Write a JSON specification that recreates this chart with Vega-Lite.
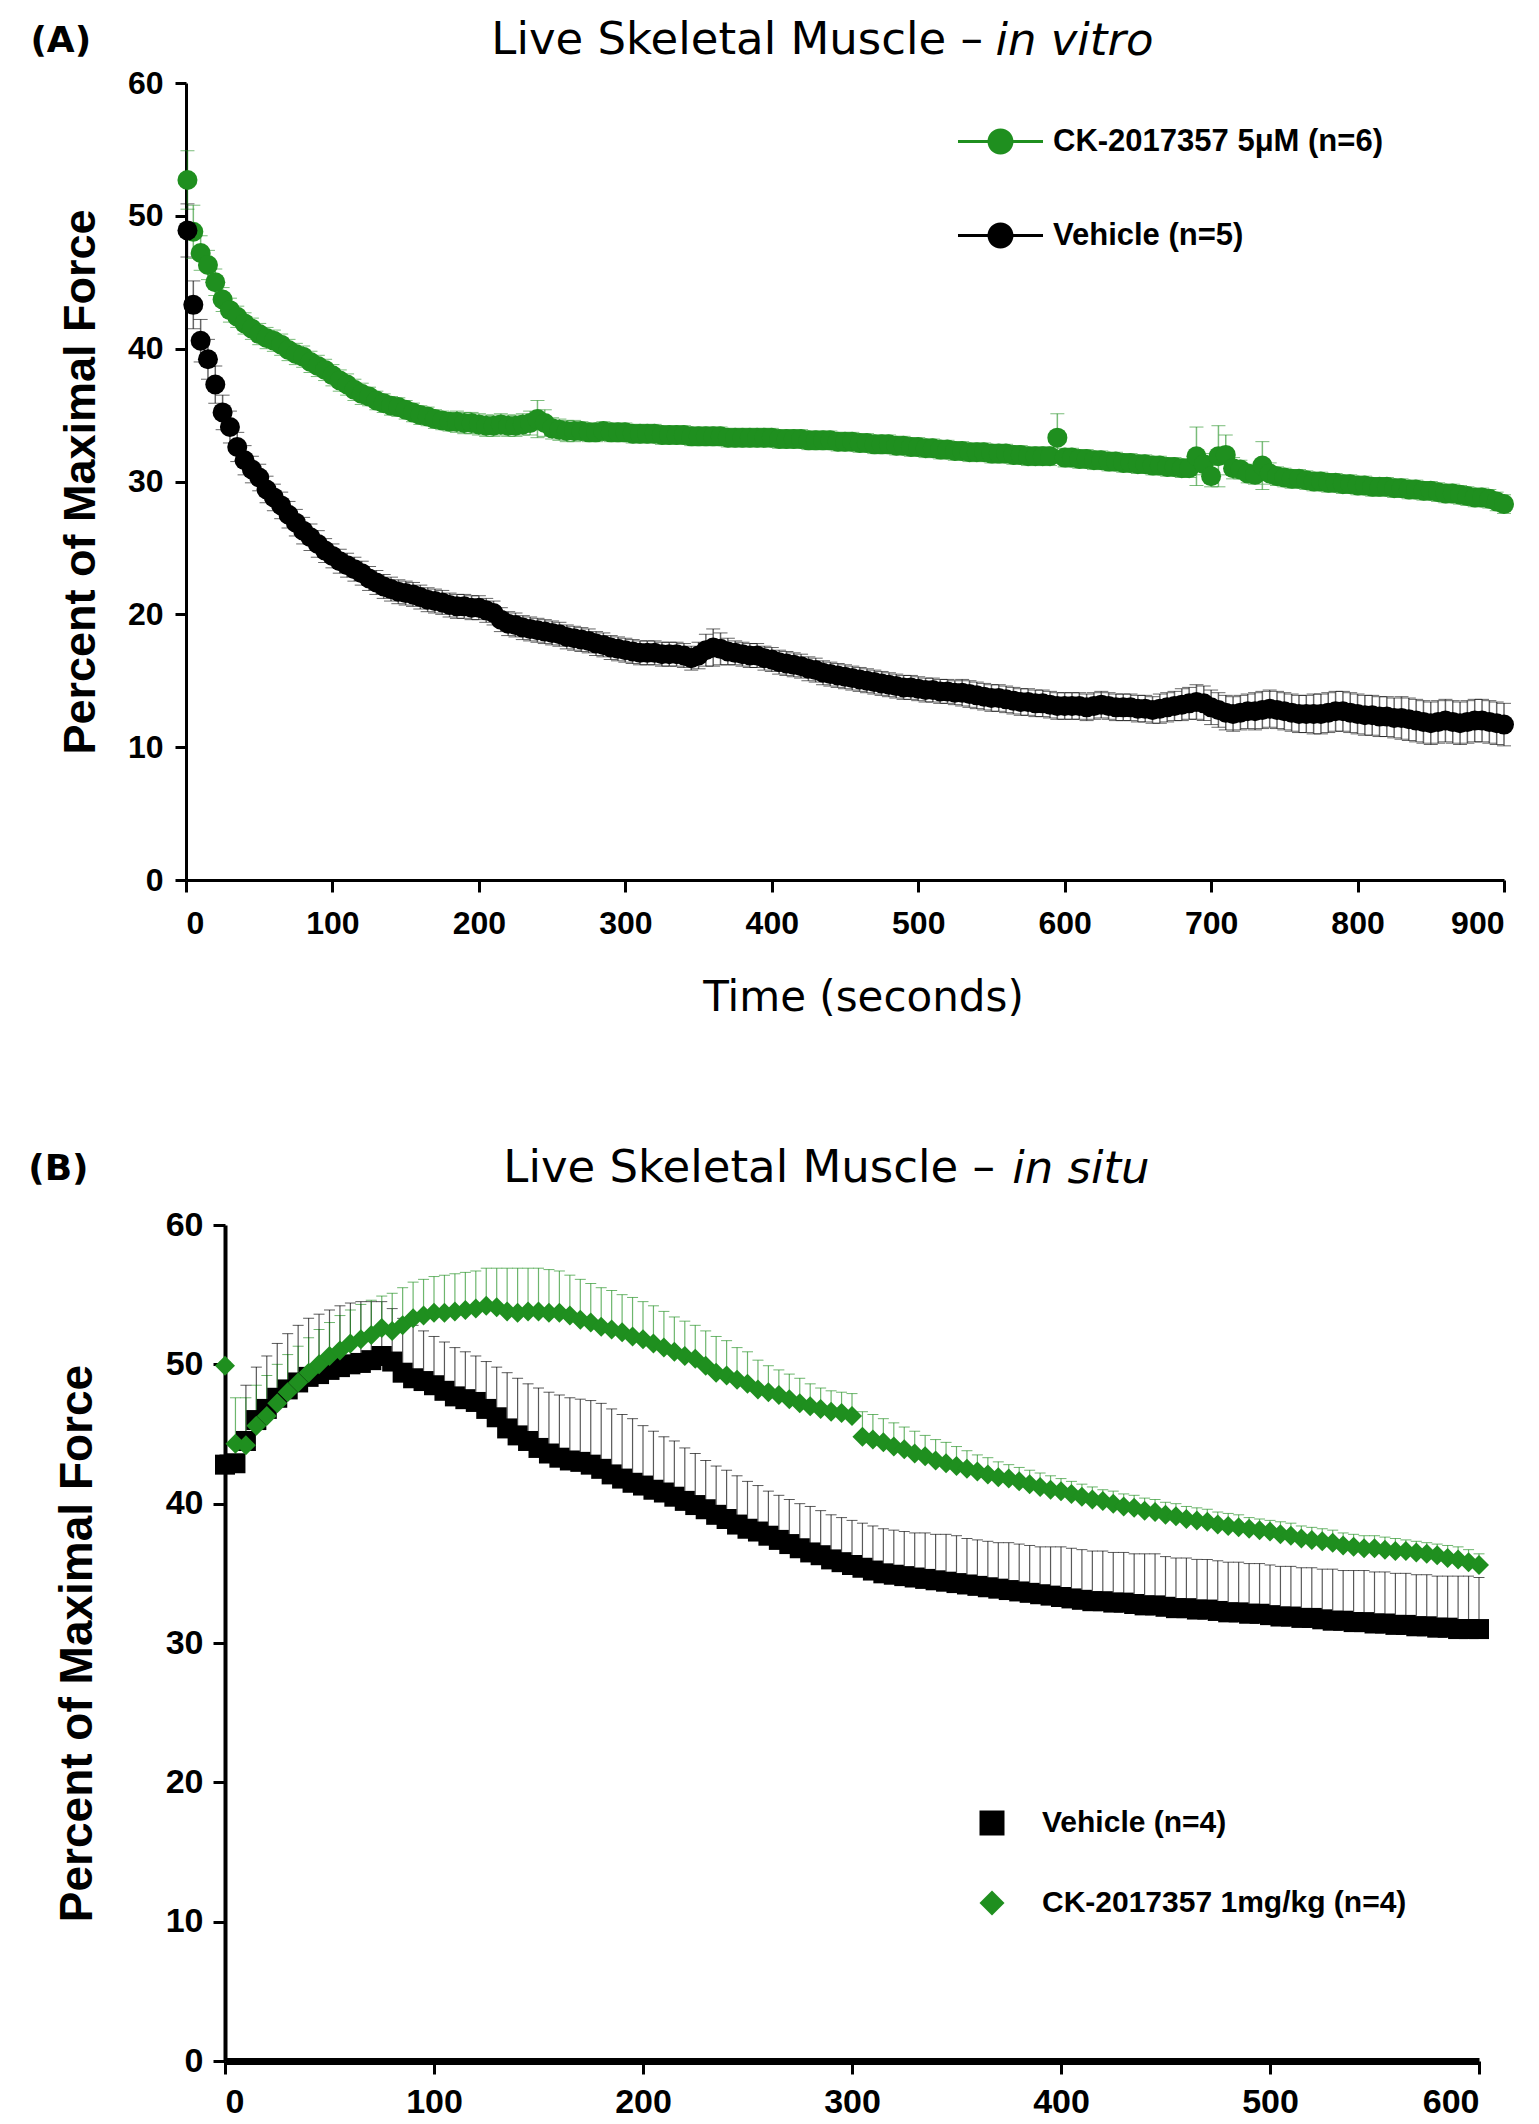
{
  "$schema": "https://vega.github.io/schema/vega-lite/v6.json",
  "background": "white",
  "padding": {"left": 28, "top": 18, "right": 10, "bottom": 0},
  "columns": 1,
  "align": "none",
  "spacing": 128,
  "resolve": {"scale": {"color": "independent", "shape": "independent"}},
  "config": {
    "view": {"stroke": null},
    "axis": {"grid": false, "domainColor": "black", "tickColor": "black", "labelColor": "black", "titleColor": "black", "labelFont": "Liberation Sans", "labelFontWeight": "bold", "titleFont": "Liberation Sans", "titleFontWeight": "bold"},
    "title": {"font": "DejaVu Sans", "fontWeight": "normal", "color": "black"}
  },
  "datasets": {
    "A": [
      {"s":"C","t":1,"y":52.7,"e":2.2},{"s":"C","t":5,"y":48.8,"e":2.0},{"s":"C","t":10,"y":47.2,"e":1.3},{"s":"C","t":15,"y":46.3,"e":1.1},{"s":"C","t":20,"y":45.0,"e":1.0},{"s":"C","t":25,"y":43.7,"e":0.9},{"s":"C","t":30,"y":42.9,"e":0.9},{"s":"C","t":35,"y":42.4,"e":0.8},{"s":"C","t":40,"y":41.9,"e":0.8},{"s":"C","t":45,"y":41.5,"e":0.8},
      {"s":"C","t":50,"y":41.1,"e":0.8},{"s":"C","t":55,"y":40.8,"e":0.8},{"s":"C","t":60,"y":40.6,"e":0.8},{"s":"C","t":65,"y":40.3,"e":0.8},{"s":"C","t":70,"y":39.9,"e":0.8},{"s":"C","t":75,"y":39.6,"e":0.8},{"s":"C","t":80,"y":39.4,"e":0.8},{"s":"C","t":85,"y":39.0,"e":0.8},{"s":"C","t":90,"y":38.7,"e":0.8},{"s":"C","t":95,"y":38.4,"e":0.8},
      {"s":"C","t":100,"y":38.0,"e":0.8},{"s":"C","t":105,"y":37.6,"e":0.8},{"s":"C","t":110,"y":37.3,"e":0.8},{"s":"C","t":115,"y":36.9,"e":0.8},{"s":"C","t":120,"y":36.6,"e":0.8},{"s":"C","t":125,"y":36.4,"e":0.7},{"s":"C","t":130,"y":36.1,"e":0.7},{"s":"C","t":135,"y":35.9,"e":0.7},{"s":"C","t":140,"y":35.7,"e":0.7},{"s":"C","t":145,"y":35.6,"e":0.7},
      {"s":"C","t":150,"y":35.4,"e":0.7},{"s":"C","t":155,"y":35.2,"e":0.7},{"s":"C","t":160,"y":35.0,"e":0.7},{"s":"C","t":165,"y":34.9,"e":0.7},{"s":"C","t":170,"y":34.7,"e":0.7},{"s":"C","t":175,"y":34.6,"e":0.7},{"s":"C","t":180,"y":34.5,"e":0.7},{"s":"C","t":185,"y":34.5,"e":0.8},{"s":"C","t":190,"y":34.4,"e":0.8},{"s":"C","t":195,"y":34.4,"e":0.8},
      {"s":"C","t":200,"y":34.3,"e":0.8},{"s":"C","t":205,"y":34.2,"e":0.8},{"s":"C","t":210,"y":34.2,"e":0.8},{"s":"C","t":215,"y":34.3,"e":0.8},{"s":"C","t":220,"y":34.2,"e":0.8},{"s":"C","t":225,"y":34.2,"e":0.8},{"s":"C","t":230,"y":34.3,"e":0.8},{"s":"C","t":235,"y":34.4,"e":0.9},{"s":"C","t":240,"y":34.7,"e":1.4},{"s":"C","t":245,"y":34.4,"e":1.0},
      {"s":"C","t":250,"y":34.0,"e":0.8},{"s":"C","t":255,"y":33.9,"e":0.8},{"s":"C","t":260,"y":33.8,"e":0.8},{"s":"C","t":265,"y":33.8,"e":0.8},{"s":"C","t":270,"y":33.8,"e":0.7},{"s":"C","t":275,"y":33.7,"e":0.7},{"s":"C","t":280,"y":33.7,"e":0.7},{"s":"C","t":285,"y":33.8,"e":0.7},{"s":"C","t":290,"y":33.7,"e":0.7},{"s":"C","t":295,"y":33.7,"e":0.7},
      {"s":"C","t":300,"y":33.7,"e":0.7},{"s":"C","t":305,"y":33.6,"e":0.7},{"s":"C","t":310,"y":33.6,"e":0.7},{"s":"C","t":315,"y":33.6,"e":0.7},{"s":"C","t":320,"y":33.6,"e":0.7},{"s":"C","t":325,"y":33.5,"e":0.7},{"s":"C","t":330,"y":33.5,"e":0.7},{"s":"C","t":335,"y":33.5,"e":0.7},{"s":"C","t":340,"y":33.5,"e":0.7},{"s":"C","t":345,"y":33.4,"e":0.7},
      {"s":"C","t":350,"y":33.4,"e":0.7},{"s":"C","t":355,"y":33.4,"e":0.7},{"s":"C","t":360,"y":33.4,"e":0.7},{"s":"C","t":365,"y":33.4,"e":0.7},{"s":"C","t":370,"y":33.3,"e":0.7},{"s":"C","t":375,"y":33.3,"e":0.7},{"s":"C","t":380,"y":33.3,"e":0.7},{"s":"C","t":385,"y":33.3,"e":0.7},{"s":"C","t":390,"y":33.3,"e":0.7},{"s":"C","t":395,"y":33.3,"e":0.7},
      {"s":"C","t":400,"y":33.3,"e":0.7},{"s":"C","t":405,"y":33.2,"e":0.7},{"s":"C","t":410,"y":33.2,"e":0.7},{"s":"C","t":415,"y":33.2,"e":0.7},{"s":"C","t":420,"y":33.2,"e":0.7},{"s":"C","t":425,"y":33.1,"e":0.7},{"s":"C","t":430,"y":33.1,"e":0.7},{"s":"C","t":435,"y":33.1,"e":0.7},{"s":"C","t":440,"y":33.1,"e":0.7},{"s":"C","t":445,"y":33.0,"e":0.7},
      {"s":"C","t":450,"y":33.0,"e":0.7},{"s":"C","t":455,"y":33.0,"e":0.7},{"s":"C","t":460,"y":32.9,"e":0.7},{"s":"C","t":465,"y":32.9,"e":0.7},{"s":"C","t":470,"y":32.8,"e":0.7},{"s":"C","t":475,"y":32.8,"e":0.7},{"s":"C","t":480,"y":32.8,"e":0.7},{"s":"C","t":485,"y":32.7,"e":0.7},{"s":"C","t":490,"y":32.7,"e":0.7},{"s":"C","t":495,"y":32.6,"e":0.7},
      {"s":"C","t":500,"y":32.6,"e":0.7},{"s":"C","t":505,"y":32.5,"e":0.7},{"s":"C","t":510,"y":32.5,"e":0.7},{"s":"C","t":515,"y":32.4,"e":0.7},{"s":"C","t":520,"y":32.4,"e":0.7},{"s":"C","t":525,"y":32.3,"e":0.7},{"s":"C","t":530,"y":32.3,"e":0.7},{"s":"C","t":535,"y":32.2,"e":0.7},{"s":"C","t":540,"y":32.2,"e":0.7},{"s":"C","t":545,"y":32.2,"e":0.7},
      {"s":"C","t":550,"y":32.1,"e":0.7},{"s":"C","t":555,"y":32.1,"e":0.7},{"s":"C","t":560,"y":32.1,"e":0.7},{"s":"C","t":565,"y":32.0,"e":0.7},{"s":"C","t":570,"y":32.0,"e":0.7},{"s":"C","t":575,"y":31.9,"e":0.7},{"s":"C","t":580,"y":31.9,"e":0.7},{"s":"C","t":585,"y":31.9,"e":0.7},{"s":"C","t":590,"y":31.9,"e":0.7},{"s":"C","t":595,"y":33.3,"e":1.8},
      {"s":"C","t":600,"y":31.8,"e":0.7},{"s":"C","t":605,"y":31.8,"e":0.7},{"s":"C","t":610,"y":31.7,"e":0.7},{"s":"C","t":615,"y":31.7,"e":0.7},{"s":"C","t":620,"y":31.6,"e":0.7},{"s":"C","t":625,"y":31.6,"e":0.7},{"s":"C","t":630,"y":31.5,"e":0.7},{"s":"C","t":635,"y":31.5,"e":0.7},{"s":"C","t":640,"y":31.4,"e":0.7},{"s":"C","t":645,"y":31.4,"e":0.7},
      {"s":"C","t":650,"y":31.3,"e":0.7},{"s":"C","t":655,"y":31.3,"e":0.7},{"s":"C","t":660,"y":31.2,"e":0.7},{"s":"C","t":665,"y":31.2,"e":0.7},{"s":"C","t":670,"y":31.1,"e":0.7},{"s":"C","t":675,"y":31.1,"e":0.7},{"s":"C","t":680,"y":31.0,"e":0.7},{"s":"C","t":685,"y":31.0,"e":0.7},{"s":"C","t":690,"y":31.9,"e":2.2},{"s":"C","t":695,"y":31.3,"e":0.8},
      {"s":"C","t":700,"y":30.4,"e":0.8},{"s":"C","t":705,"y":31.9,"e":2.3},{"s":"C","t":710,"y":32.0,"e":1.5},{"s":"C","t":715,"y":31.0,"e":0.8},{"s":"C","t":720,"y":30.9,"e":0.7},{"s":"C","t":725,"y":30.6,"e":0.7},{"s":"C","t":730,"y":30.5,"e":0.7},{"s":"C","t":735,"y":31.2,"e":1.8},{"s":"C","t":740,"y":30.6,"e":0.8},{"s":"C","t":745,"y":30.4,"e":0.7},
      {"s":"C","t":750,"y":30.3,"e":0.7},{"s":"C","t":755,"y":30.2,"e":0.7},{"s":"C","t":760,"y":30.2,"e":0.7},{"s":"C","t":765,"y":30.1,"e":0.7},{"s":"C","t":770,"y":30.0,"e":0.7},{"s":"C","t":775,"y":30.0,"e":0.7},{"s":"C","t":780,"y":29.9,"e":0.7},{"s":"C","t":785,"y":29.9,"e":0.7},{"s":"C","t":790,"y":29.8,"e":0.7},{"s":"C","t":795,"y":29.8,"e":0.7},
      {"s":"C","t":800,"y":29.7,"e":0.7},{"s":"C","t":805,"y":29.7,"e":0.7},{"s":"C","t":810,"y":29.6,"e":0.7},{"s":"C","t":815,"y":29.6,"e":0.7},{"s":"C","t":820,"y":29.6,"e":0.7},{"s":"C","t":825,"y":29.5,"e":0.7},{"s":"C","t":830,"y":29.5,"e":0.7},{"s":"C","t":835,"y":29.4,"e":0.7},{"s":"C","t":840,"y":29.4,"e":0.7},{"s":"C","t":845,"y":29.3,"e":0.7},
      {"s":"C","t":850,"y":29.3,"e":0.7},{"s":"C","t":855,"y":29.2,"e":0.7},{"s":"C","t":860,"y":29.1,"e":0.7},{"s":"C","t":865,"y":29.1,"e":0.7},{"s":"C","t":870,"y":29.0,"e":0.7},{"s":"C","t":875,"y":28.9,"e":0.7},{"s":"C","t":880,"y":28.8,"e":0.7},{"s":"C","t":885,"y":28.8,"e":0.7},{"s":"C","t":890,"y":28.7,"e":0.7},{"s":"C","t":895,"y":28.5,"e":0.7},
      {"s":"C","t":900,"y":28.3,"e":0.7},
      {"s":"V","t":1,"y":48.9,"e":2.0},{"s":"V","t":5,"y":43.3,"e":1.8},{"s":"V","t":10,"y":40.6,"e":1.6},{"s":"V","t":15,"y":39.2,"e":1.5},{"s":"V","t":20,"y":37.3,"e":1.4},{"s":"V","t":25,"y":35.2,"e":1.3},{"s":"V","t":30,"y":34.1,"e":1.2},{"s":"V","t":35,"y":32.6,"e":1.1},{"s":"V","t":40,"y":31.6,"e":1.1},{"s":"V","t":45,"y":30.9,"e":1.0},
      {"s":"V","t":50,"y":30.3,"e":1.0},{"s":"V","t":55,"y":29.4,"e":1.0},{"s":"V","t":60,"y":28.8,"e":1.0},{"s":"V","t":65,"y":28.2,"e":1.0},{"s":"V","t":70,"y":27.5,"e":1.0},{"s":"V","t":75,"y":26.9,"e":1.0},{"s":"V","t":80,"y":26.3,"e":1.0},{"s":"V","t":85,"y":25.8,"e":1.0},{"s":"V","t":90,"y":25.3,"e":1.0},{"s":"V","t":95,"y":24.8,"e":0.9},
      {"s":"V","t":100,"y":24.4,"e":0.9},{"s":"V","t":105,"y":24.0,"e":0.9},{"s":"V","t":110,"y":23.7,"e":0.9},{"s":"V","t":115,"y":23.4,"e":0.9},{"s":"V","t":120,"y":23.1,"e":0.9},{"s":"V","t":125,"y":22.7,"e":0.9},{"s":"V","t":130,"y":22.4,"e":0.9},{"s":"V","t":135,"y":22.1,"e":0.9},{"s":"V","t":140,"y":21.9,"e":0.9},{"s":"V","t":145,"y":21.7,"e":0.9},
      {"s":"V","t":150,"y":21.6,"e":0.9},{"s":"V","t":155,"y":21.5,"e":0.9},{"s":"V","t":160,"y":21.3,"e":0.9},{"s":"V","t":165,"y":21.1,"e":0.9},{"s":"V","t":170,"y":21.0,"e":0.9},{"s":"V","t":175,"y":20.9,"e":0.9},{"s":"V","t":180,"y":20.7,"e":0.9},{"s":"V","t":185,"y":20.6,"e":0.9},{"s":"V","t":190,"y":20.6,"e":0.9},{"s":"V","t":195,"y":20.5,"e":0.9},
      {"s":"V","t":200,"y":20.5,"e":0.9},{"s":"V","t":205,"y":20.3,"e":0.9},{"s":"V","t":210,"y":20.1,"e":0.9},{"s":"V","t":215,"y":19.6,"e":0.9},{"s":"V","t":220,"y":19.3,"e":0.9},{"s":"V","t":225,"y":19.2,"e":0.9},{"s":"V","t":230,"y":19.0,"e":0.9},{"s":"V","t":235,"y":18.9,"e":0.9},{"s":"V","t":240,"y":18.8,"e":0.9},{"s":"V","t":245,"y":18.7,"e":0.9},
      {"s":"V","t":250,"y":18.6,"e":0.9},{"s":"V","t":255,"y":18.5,"e":0.9},{"s":"V","t":260,"y":18.3,"e":0.9},{"s":"V","t":265,"y":18.2,"e":0.9},{"s":"V","t":270,"y":18.1,"e":0.9},{"s":"V","t":275,"y":18.0,"e":0.9},{"s":"V","t":280,"y":17.8,"e":0.9},{"s":"V","t":285,"y":17.7,"e":0.9},{"s":"V","t":290,"y":17.5,"e":0.9},{"s":"V","t":295,"y":17.4,"e":0.9},
      {"s":"V","t":300,"y":17.3,"e":0.9},{"s":"V","t":305,"y":17.2,"e":0.9},{"s":"V","t":310,"y":17.1,"e":0.9},{"s":"V","t":315,"y":17.1,"e":0.9},{"s":"V","t":320,"y":17.1,"e":0.9},{"s":"V","t":325,"y":17.0,"e":0.9},{"s":"V","t":330,"y":17.0,"e":0.9},{"s":"V","t":335,"y":17.0,"e":0.9},{"s":"V","t":340,"y":16.9,"e":0.9},{"s":"V","t":345,"y":16.7,"e":0.9},
      {"s":"V","t":350,"y":16.9,"e":1.0},{"s":"V","t":355,"y":17.3,"e":1.2},{"s":"V","t":360,"y":17.5,"e":1.4},{"s":"V","t":365,"y":17.4,"e":1.2},{"s":"V","t":370,"y":17.2,"e":1.0},{"s":"V","t":375,"y":17.1,"e":0.9},{"s":"V","t":380,"y":17.0,"e":0.9},{"s":"V","t":385,"y":16.9,"e":0.9},{"s":"V","t":390,"y":16.9,"e":0.9},{"s":"V","t":395,"y":16.7,"e":0.9},
      {"s":"V","t":400,"y":16.6,"e":0.9},{"s":"V","t":405,"y":16.4,"e":0.9},{"s":"V","t":410,"y":16.3,"e":0.9},{"s":"V","t":415,"y":16.2,"e":0.9},{"s":"V","t":420,"y":16.1,"e":0.9},{"s":"V","t":425,"y":15.9,"e":0.9},{"s":"V","t":430,"y":15.8,"e":0.9},{"s":"V","t":435,"y":15.6,"e":0.9},{"s":"V","t":440,"y":15.5,"e":0.9},{"s":"V","t":445,"y":15.4,"e":0.9},
      {"s":"V","t":450,"y":15.3,"e":0.9},{"s":"V","t":455,"y":15.2,"e":0.9},{"s":"V","t":460,"y":15.1,"e":0.9},{"s":"V","t":465,"y":15.0,"e":0.9},{"s":"V","t":470,"y":14.9,"e":0.9},{"s":"V","t":475,"y":14.8,"e":0.9},{"s":"V","t":480,"y":14.7,"e":0.9},{"s":"V","t":485,"y":14.6,"e":0.9},{"s":"V","t":490,"y":14.5,"e":0.9},{"s":"V","t":495,"y":14.5,"e":0.9},
      {"s":"V","t":500,"y":14.4,"e":0.9},{"s":"V","t":505,"y":14.3,"e":0.9},{"s":"V","t":510,"y":14.3,"e":0.9},{"s":"V","t":515,"y":14.2,"e":0.9},{"s":"V","t":520,"y":14.2,"e":0.9},{"s":"V","t":525,"y":14.1,"e":0.9},{"s":"V","t":530,"y":14.1,"e":1.0},{"s":"V","t":535,"y":14.0,"e":1.0},{"s":"V","t":540,"y":13.9,"e":1.0},{"s":"V","t":545,"y":13.8,"e":1.0},
      {"s":"V","t":550,"y":13.7,"e":1.0},{"s":"V","t":555,"y":13.7,"e":1.0},{"s":"V","t":560,"y":13.6,"e":1.0},{"s":"V","t":565,"y":13.5,"e":1.0},{"s":"V","t":570,"y":13.4,"e":1.0},{"s":"V","t":575,"y":13.4,"e":1.0},{"s":"V","t":580,"y":13.3,"e":1.0},{"s":"V","t":585,"y":13.3,"e":1.0},{"s":"V","t":590,"y":13.2,"e":1.0},{"s":"V","t":595,"y":13.1,"e":1.0},
      {"s":"V","t":600,"y":13.1,"e":1.0},{"s":"V","t":605,"y":13.1,"e":1.0},{"s":"V","t":610,"y":13.1,"e":1.0},{"s":"V","t":615,"y":13.0,"e":1.0},{"s":"V","t":620,"y":13.1,"e":1.0},{"s":"V","t":625,"y":13.2,"e":1.0},{"s":"V","t":630,"y":13.1,"e":1.0},{"s":"V","t":635,"y":13.0,"e":1.0},{"s":"V","t":640,"y":13.0,"e":1.0},{"s":"V","t":645,"y":13.0,"e":1.0},
      {"s":"V","t":650,"y":12.9,"e":1.0},{"s":"V","t":655,"y":12.9,"e":1.0},{"s":"V","t":660,"y":12.8,"e":1.0},{"s":"V","t":665,"y":12.9,"e":1.1},{"s":"V","t":670,"y":13.0,"e":1.1},{"s":"V","t":675,"y":13.1,"e":1.1},{"s":"V","t":680,"y":13.2,"e":1.2},{"s":"V","t":685,"y":13.3,"e":1.2},{"s":"V","t":690,"y":13.4,"e":1.3},{"s":"V","t":695,"y":13.3,"e":1.3},
      {"s":"V","t":700,"y":13.0,"e":1.3},{"s":"V","t":705,"y":12.8,"e":1.3},{"s":"V","t":710,"y":12.6,"e":1.3},{"s":"V","t":715,"y":12.5,"e":1.3},{"s":"V","t":720,"y":12.6,"e":1.3},{"s":"V","t":725,"y":12.7,"e":1.3},{"s":"V","t":730,"y":12.7,"e":1.4},{"s":"V","t":735,"y":12.8,"e":1.4},{"s":"V","t":740,"y":12.9,"e":1.4},{"s":"V","t":745,"y":12.8,"e":1.4},
      {"s":"V","t":750,"y":12.7,"e":1.4},{"s":"V","t":755,"y":12.6,"e":1.4},{"s":"V","t":760,"y":12.5,"e":1.4},{"s":"V","t":765,"y":12.5,"e":1.4},{"s":"V","t":770,"y":12.5,"e":1.5},{"s":"V","t":775,"y":12.5,"e":1.5},{"s":"V","t":780,"y":12.6,"e":1.5},{"s":"V","t":785,"y":12.7,"e":1.5},{"s":"V","t":790,"y":12.7,"e":1.5},{"s":"V","t":795,"y":12.6,"e":1.5},
      {"s":"V","t":800,"y":12.5,"e":1.5},{"s":"V","t":805,"y":12.4,"e":1.5},{"s":"V","t":810,"y":12.4,"e":1.5},{"s":"V","t":815,"y":12.3,"e":1.5},{"s":"V","t":820,"y":12.3,"e":1.5},{"s":"V","t":825,"y":12.2,"e":1.5},{"s":"V","t":830,"y":12.2,"e":1.6},{"s":"V","t":835,"y":12.1,"e":1.6},{"s":"V","t":840,"y":12.0,"e":1.6},{"s":"V","t":845,"y":11.9,"e":1.6},
      {"s":"V","t":850,"y":11.8,"e":1.6},{"s":"V","t":855,"y":11.9,"e":1.6},{"s":"V","t":860,"y":12.0,"e":1.6},{"s":"V","t":865,"y":11.9,"e":1.6},{"s":"V","t":870,"y":11.8,"e":1.6},{"s":"V","t":875,"y":11.9,"e":1.6},{"s":"V","t":880,"y":12.0,"e":1.6},{"s":"V","t":885,"y":12.0,"e":1.6},{"s":"V","t":890,"y":11.9,"e":1.6},{"s":"V","t":895,"y":11.8,"e":1.6},
      {"s":"V","t":900,"y":11.7,"e":1.6}
    ],
    "B": [
      {"s":"V","t":0,"y":42.8,"u":43.5},{"s":"V","t":5,"y":42.9,"u":44.5},{"s":"V","t":10,"y":44.5,"u":48.5},{"s":"V","t":15,"y":46.0,"u":49.8},{"s":"V","t":20,"y":46.8,"u":50.6},{"s":"V","t":25,"y":47.6,"u":51.5},{"s":"V","t":30,"y":48.2,"u":52.2},{"s":"V","t":35,"y":48.7,"u":52.8},{"s":"V","t":40,"y":49.1,"u":53.3},{"s":"V","t":45,"y":49.3,"u":53.6},
      {"s":"V","t":50,"y":49.6,"u":53.9},{"s":"V","t":55,"y":49.8,"u":54.2},{"s":"V","t":60,"y":50.0,"u":54.4},{"s":"V","t":65,"y":50.1,"u":54.5},{"s":"V","t":70,"y":50.3,"u":54.5},{"s":"V","t":75,"y":50.6,"u":54.5},{"s":"V","t":80,"y":50.2,"u":54.0},{"s":"V","t":85,"y":49.4,"u":53.3},{"s":"V","t":90,"y":49.0,"u":52.8},{"s":"V","t":95,"y":48.8,"u":52.4},
      {"s":"V","t":100,"y":48.5,"u":52.0},{"s":"V","t":105,"y":48.1,"u":51.6},{"s":"V","t":110,"y":47.7,"u":51.2},{"s":"V","t":115,"y":47.5,"u":50.9},{"s":"V","t":120,"y":47.3,"u":50.6},{"s":"V","t":125,"y":46.8,"u":50.2},{"s":"V","t":130,"y":46.2,"u":49.8},{"s":"V","t":135,"y":45.4,"u":49.4},{"s":"V","t":140,"y":44.9,"u":49.0},{"s":"V","t":145,"y":44.5,"u":48.6},
      {"s":"V","t":150,"y":44.0,"u":48.3},{"s":"V","t":155,"y":43.6,"u":48.0},{"s":"V","t":160,"y":43.3,"u":47.8},{"s":"V","t":165,"y":43.1,"u":47.6},{"s":"V","t":170,"y":43.0,"u":47.5},{"s":"V","t":175,"y":42.8,"u":47.4},{"s":"V","t":180,"y":42.5,"u":47.2},{"s":"V","t":185,"y":42.1,"u":46.8},{"s":"V","t":190,"y":41.8,"u":46.4},{"s":"V","t":195,"y":41.5,"u":46.1},
      {"s":"V","t":200,"y":41.3,"u":45.6},{"s":"V","t":205,"y":41.0,"u":45.2},{"s":"V","t":210,"y":40.8,"u":44.8},{"s":"V","t":215,"y":40.5,"u":44.5},{"s":"V","t":220,"y":40.2,"u":44.0},{"s":"V","t":225,"y":39.9,"u":43.6},{"s":"V","t":230,"y":39.6,"u":43.1},{"s":"V","t":235,"y":39.2,"u":42.7},{"s":"V","t":240,"y":38.9,"u":42.4},{"s":"V","t":245,"y":38.5,"u":42.0},
      {"s":"V","t":250,"y":38.2,"u":41.6},{"s":"V","t":255,"y":38.0,"u":41.3},{"s":"V","t":260,"y":37.7,"u":40.9},{"s":"V","t":265,"y":37.4,"u":40.6},{"s":"V","t":270,"y":37.1,"u":40.3},{"s":"V","t":275,"y":36.8,"u":40.0},{"s":"V","t":280,"y":36.5,"u":39.8},{"s":"V","t":285,"y":36.3,"u":39.5},{"s":"V","t":290,"y":36.0,"u":39.2},{"s":"V","t":295,"y":35.8,"u":39.0},
      {"s":"V","t":300,"y":35.6,"u":38.8},{"s":"V","t":305,"y":35.4,"u":38.6},{"s":"V","t":310,"y":35.2,"u":38.4},{"s":"V","t":315,"y":35.0,"u":38.2},{"s":"V","t":320,"y":34.9,"u":38.1},{"s":"V","t":325,"y":34.8,"u":38.0},{"s":"V","t":330,"y":34.7,"u":37.9},{"s":"V","t":335,"y":34.6,"u":37.9},{"s":"V","t":340,"y":34.5,"u":37.8},{"s":"V","t":345,"y":34.4,"u":37.8},
      {"s":"V","t":350,"y":34.3,"u":37.7},{"s":"V","t":355,"y":34.2,"u":37.5},{"s":"V","t":360,"y":34.1,"u":37.4},{"s":"V","t":365,"y":34.0,"u":37.3},{"s":"V","t":370,"y":33.9,"u":37.2},{"s":"V","t":375,"y":33.8,"u":37.2},{"s":"V","t":380,"y":33.7,"u":37.1},{"s":"V","t":385,"y":33.6,"u":37.0},{"s":"V","t":390,"y":33.5,"u":36.9},{"s":"V","t":395,"y":33.4,"u":36.9},
      {"s":"V","t":400,"y":33.3,"u":36.9},{"s":"V","t":405,"y":33.2,"u":36.8},{"s":"V","t":410,"y":33.1,"u":36.7},{"s":"V","t":415,"y":33.0,"u":36.6},{"s":"V","t":420,"y":33.0,"u":36.6},{"s":"V","t":425,"y":32.9,"u":36.5},{"s":"V","t":430,"y":32.9,"u":36.5},{"s":"V","t":435,"y":32.8,"u":36.4},{"s":"V","t":440,"y":32.7,"u":36.4},{"s":"V","t":445,"y":32.7,"u":36.4},
      {"s":"V","t":450,"y":32.6,"u":36.2},{"s":"V","t":455,"y":32.5,"u":36.1},{"s":"V","t":460,"y":32.5,"u":36.1},{"s":"V","t":465,"y":32.4,"u":36.0},{"s":"V","t":470,"y":32.4,"u":36.0},{"s":"V","t":475,"y":32.3,"u":35.9},{"s":"V","t":480,"y":32.2,"u":35.8},{"s":"V","t":485,"y":32.2,"u":35.8},{"s":"V","t":490,"y":32.1,"u":35.7},{"s":"V","t":495,"y":32.1,"u":35.7},
      {"s":"V","t":500,"y":32.0,"u":35.6},{"s":"V","t":505,"y":31.9,"u":35.5},{"s":"V","t":510,"y":31.9,"u":35.5},{"s":"V","t":515,"y":31.8,"u":35.4},{"s":"V","t":520,"y":31.8,"u":35.4},{"s":"V","t":525,"y":31.7,"u":35.3},{"s":"V","t":530,"y":31.6,"u":35.3},{"s":"V","t":535,"y":31.6,"u":35.2},{"s":"V","t":540,"y":31.5,"u":35.2},{"s":"V","t":545,"y":31.5,"u":35.2},
      {"s":"V","t":550,"y":31.4,"u":35.1},{"s":"V","t":555,"y":31.4,"u":35.1},{"s":"V","t":560,"y":31.3,"u":35.0},{"s":"V","t":565,"y":31.3,"u":35.0},{"s":"V","t":570,"y":31.2,"u":34.9},{"s":"V","t":575,"y":31.2,"u":34.9},{"s":"V","t":580,"y":31.1,"u":34.8},{"s":"V","t":585,"y":31.1,"u":34.8},{"s":"V","t":590,"y":31.0,"u":34.8},{"s":"V","t":595,"y":31.0,"u":34.8},
      {"s":"V","t":600,"y":31.0,"u":34.7},
      {"s":"C","t":0,"y":49.9,"u":50.2},{"s":"C","t":5,"y":44.3,"u":47.6},{"s":"C","t":10,"y":44.2,"u":47.6},{"s":"C","t":15,"y":45.6,"u":48.5},{"s":"C","t":20,"y":46.3,"u":49.2},{"s":"C","t":25,"y":47.2,"u":50.0},{"s":"C","t":30,"y":48.0,"u":50.7},{"s":"C","t":35,"y":48.7,"u":51.3},{"s":"C","t":40,"y":49.4,"u":51.9},{"s":"C","t":45,"y":50.0,"u":52.5},
      {"s":"C","t":50,"y":50.6,"u":53.0},{"s":"C","t":55,"y":51.0,"u":53.5},{"s":"C","t":60,"y":51.5,"u":53.9},{"s":"C","t":65,"y":51.8,"u":54.3},{"s":"C","t":70,"y":52.1,"u":54.6},{"s":"C","t":75,"y":52.6,"u":54.9},{"s":"C","t":80,"y":52.4,"u":55.1},{"s":"C","t":85,"y":52.8,"u":55.5},{"s":"C","t":90,"y":53.3,"u":55.9},{"s":"C","t":95,"y":53.5,"u":56.1},
      {"s":"C","t":100,"y":53.7,"u":56.3},{"s":"C","t":105,"y":53.7,"u":56.4},{"s":"C","t":110,"y":53.8,"u":56.5},{"s":"C","t":115,"y":53.9,"u":56.6},{"s":"C","t":120,"y":54.0,"u":56.7},{"s":"C","t":125,"y":54.2,"u":56.9},{"s":"C","t":130,"y":54.1,"u":56.9},{"s":"C","t":135,"y":53.8,"u":56.9},{"s":"C","t":140,"y":53.7,"u":56.9},{"s":"C","t":145,"y":53.8,"u":56.9},
      {"s":"C","t":150,"y":53.8,"u":56.9},{"s":"C","t":155,"y":53.7,"u":56.8},{"s":"C","t":160,"y":53.7,"u":56.7},{"s":"C","t":165,"y":53.5,"u":56.4},{"s":"C","t":170,"y":53.2,"u":56.1},{"s":"C","t":175,"y":53.0,"u":55.8},{"s":"C","t":180,"y":52.7,"u":55.5},{"s":"C","t":185,"y":52.5,"u":55.3},{"s":"C","t":190,"y":52.3,"u":55.0},{"s":"C","t":195,"y":52.0,"u":54.8},
      {"s":"C","t":200,"y":51.8,"u":54.5},{"s":"C","t":205,"y":51.5,"u":54.2},{"s":"C","t":210,"y":51.2,"u":53.8},{"s":"C","t":215,"y":50.9,"u":53.4},{"s":"C","t":220,"y":50.6,"u":53.1},{"s":"C","t":225,"y":50.4,"u":52.8},{"s":"C","t":230,"y":49.9,"u":52.4},{"s":"C","t":235,"y":49.4,"u":52.0},{"s":"C","t":240,"y":49.2,"u":51.7},{"s":"C","t":245,"y":48.9,"u":51.2},
      {"s":"C","t":250,"y":48.6,"u":50.9},{"s":"C","t":255,"y":48.2,"u":50.3},{"s":"C","t":260,"y":48.0,"u":49.9},{"s":"C","t":265,"y":47.8,"u":49.6},{"s":"C","t":270,"y":47.5,"u":49.3},{"s":"C","t":275,"y":47.2,"u":49.0},{"s":"C","t":280,"y":47.0,"u":48.6},{"s":"C","t":285,"y":46.8,"u":48.3},{"s":"C","t":290,"y":46.6,"u":48.1},{"s":"C","t":295,"y":46.5,"u":48.0},
      {"s":"C","t":300,"y":46.3,"u":47.9},{"s":"C","t":305,"y":44.8,"u":46.6},{"s":"C","t":310,"y":44.6,"u":46.4},{"s":"C","t":315,"y":44.4,"u":46.1},{"s":"C","t":320,"y":44.1,"u":45.8},{"s":"C","t":325,"y":43.9,"u":45.5},{"s":"C","t":330,"y":43.6,"u":45.2},{"s":"C","t":335,"y":43.4,"u":44.9},{"s":"C","t":340,"y":43.1,"u":44.6},{"s":"C","t":345,"y":42.9,"u":44.4},
      {"s":"C","t":350,"y":42.7,"u":44.1},{"s":"C","t":355,"y":42.5,"u":43.8},{"s":"C","t":360,"y":42.3,"u":43.5},{"s":"C","t":365,"y":42.1,"u":43.3},{"s":"C","t":370,"y":41.9,"u":43.0},{"s":"C","t":375,"y":41.8,"u":42.8},{"s":"C","t":380,"y":41.6,"u":42.6},{"s":"C","t":385,"y":41.4,"u":42.4},{"s":"C","t":390,"y":41.2,"u":42.2},{"s":"C","t":395,"y":41.0,"u":42.0},
      {"s":"C","t":400,"y":40.9,"u":41.8},{"s":"C","t":405,"y":40.7,"u":41.6},{"s":"C","t":410,"y":40.5,"u":41.4},{"s":"C","t":415,"y":40.3,"u":41.2},{"s":"C","t":420,"y":40.2,"u":41.0},{"s":"C","t":425,"y":40.0,"u":40.9},{"s":"C","t":430,"y":39.8,"u":40.7},{"s":"C","t":435,"y":39.7,"u":40.6},{"s":"C","t":440,"y":39.5,"u":40.4},{"s":"C","t":445,"y":39.4,"u":40.3},
      {"s":"C","t":450,"y":39.2,"u":40.1},{"s":"C","t":455,"y":39.1,"u":40.0},{"s":"C","t":460,"y":38.9,"u":39.8},{"s":"C","t":465,"y":38.8,"u":39.7},{"s":"C","t":470,"y":38.7,"u":39.6},{"s":"C","t":475,"y":38.5,"u":39.4},{"s":"C","t":480,"y":38.4,"u":39.3},{"s":"C","t":485,"y":38.3,"u":39.2},{"s":"C","t":490,"y":38.2,"u":39.0},{"s":"C","t":495,"y":38.1,"u":38.9},
      {"s":"C","t":500,"y":38.0,"u":38.8},{"s":"C","t":505,"y":37.8,"u":38.7},{"s":"C","t":510,"y":37.7,"u":38.6},{"s":"C","t":515,"y":37.5,"u":38.4},{"s":"C","t":520,"y":37.4,"u":38.3},{"s":"C","t":525,"y":37.3,"u":38.2},{"s":"C","t":530,"y":37.2,"u":38.1},{"s":"C","t":535,"y":37.0,"u":37.9},{"s":"C","t":540,"y":36.9,"u":37.8},{"s":"C","t":545,"y":36.8,"u":37.7},
      {"s":"C","t":550,"y":36.8,"u":37.7},{"s":"C","t":555,"y":36.7,"u":37.6},{"s":"C","t":560,"y":36.6,"u":37.5},{"s":"C","t":565,"y":36.6,"u":37.4},{"s":"C","t":570,"y":36.5,"u":37.3},{"s":"C","t":575,"y":36.4,"u":37.2},{"s":"C","t":580,"y":36.3,"u":37.1},{"s":"C","t":585,"y":36.1,"u":37.0},{"s":"C","t":590,"y":36.0,"u":36.9},{"s":"C","t":595,"y":35.8,"u":36.7},
      {"s":"C","t":600,"y":35.6,"u":36.4}
    ]
  },
  "concat": [
    {
      "title": {"text": "(A)", "anchor": "start", "frame": "bounds", "font": "DejaVu Sans", "fontWeight": "bold", "fontSize": 36, "dx": -28, "dy": 42, "offset": 0},
      "vconcat": [
        {
          "title": {"text": "in vitro", "anchor": "start", "frame": "bounds", "fontStyle": "italic", "fontSize": 45, "dx": 937, "dy": 46, "offset": 0},
          "vconcat": [
            {
              "width": 1318,
              "height": 797,
              "title": {"text": "Live Skeletal Muscle –", "anchor": "end", "frame": "group", "fontSize": 45, "dx": -521, "offset": 4},
              "data": {"name": "A"},
              "encoding": {
                "x": {"field": "t", "type": "quantitative", "scale": {"domain": [0, 900], "nice": false, "zero": false},
                  "axis": {"title": "Time (seconds)", "values": [0,100,200,300,400,500,600,700,800,900], "domainWidth": 3, "tickWidth": 3, "tickSize": 12, "labelFontSize": 32, "labelPadding": 16, "titleFont": "DejaVu Sans", "titleFontWeight": "normal", "titleFontSize": 42, "titlePadding": 38, "titleX": 677, "titleAlign": "center"}},
                "y": {"field": "y", "type": "quantitative", "scale": {"domain": [0, 60], "nice": false},
                  "axis": {"title": "Percent of Maximal Force", "values": [0,10,20,30,40,50,60], "domainWidth": 3, "tickWidth": 3, "tickSize": 11, "labelFontSize": 32, "labelPadding": 12, "titleFontSize": 45, "titlePadding": 24}},
                "color": {"field": "s", "type": "nominal", "scale": {"domain": ["C", "V"], "range": ["#1f8f1f", "#000000"]},
                  "legend": {"title": null, "orient": "none", "legendX": 799, "legendY": 43, "padding": 0, "symbolType": "M-3.27,-0.115H3.27V0.115H-3.27Z M1,0A1,1,0,1,1,-1,0A1,1,0,1,1,1,0Z", "symbolSize": 676, "symbolStrokeWidth": 0, "symbolOpacity": 1, "labelFont": "Liberation Sans", "labelFontWeight": "bold", "labelFontSize": 31, "labelLimit": 0, "labelColor": "black", "labelOffset": 37, "rowPadding": 62, "labelExpr": "datum.value == 'C' ? 'CK-2017357 5μM (n=6)' : 'Vehicle (n=5)'"}}
              },
              "layer": [
                {"mark": {"type": "errorbar", "ticks": {"size": 14, "strokeWidth": 1.5}, "rule": {"strokeWidth": 1.5}, "opacity": 0.6},
                 "encoding": {"yError": {"field": "e"}}},
                {"mark": {"type": "point", "filled": true, "shape": "circle", "size": 400, "opacity": 1, "strokeWidth": 0}}
              ]
            }
          ]
        }
      ]
    },
    {
      "title": {"text": "(B)", "anchor": "start", "frame": "bounds", "font": "DejaVu Sans", "fontWeight": "bold", "fontSize": 36, "dx": -26, "dy": 42, "offset": 0},
      "vconcat": [
        {
          "title": {"text": "in situ", "anchor": "start", "frame": "bounds", "fontStyle": "italic", "fontSize": 45, "dx": 958, "dy": 46, "offset": 0},
          "vconcat": [
            {
              "width": 1293,
              "height": 836,
              "title": {"text": "Live Skeletal Muscle –", "anchor": "end", "frame": "group", "fontSize": 45, "dx": -484, "offset": 17},
              "data": {"name": "B"},
              "encoding": {
                "x": {"field": "t", "type": "quantitative", "scale": {"domain": [0, 600], "nice": false, "zero": false, "range": [39, 1293]},
                  "axis": {"title": null, "values": [0,100,200,300,400,500,600], "domainWidth": 7, "tickWidth": 3, "tickSize": 13, "labelFontSize": 34, "labelPadding": 11}},
                "y": {"field": "y", "type": "quantitative", "scale": {"domain": [0, 60], "nice": false},
                  "axis": {"title": "Percent of Maximal Force", "values": [0,10,20,30,40,50,60], "offset": -39, "domainWidth": 4, "tickWidth": 3, "tickSize": 12, "labelFontSize": 34, "labelPadding": 10, "titleFontSize": 46, "titlePadding": 64}},
                "color": {"field": "s", "type": "nominal", "scale": {"domain": ["V", "C"], "range": ["#000000", "#1f8f1f"]},
                  "legend": {"title": null, "orient": "none", "legendX": 791, "legendY": 583, "padding": 0, "symbolSize": 625, "symbolStrokeWidth": 0, "symbolOpacity": 1, "labelFont": "Liberation Sans", "labelFontWeight": "bold", "labelFontSize": 30, "labelLimit": 0, "labelColor": "black", "labelOffset": 35, "rowPadding": 50, "labelExpr": "datum.value == 'V' ? 'Vehicle (n=4)' : 'CK-2017357 1mg/kg (n=4)'"}},
                "shape": {"field": "s", "type": "nominal", "scale": {"domain": ["V", "C"], "range": ["square", "diamond"]},
                  "legend": {"title": null, "orient": "none", "legendX": 791, "legendY": 583, "padding": 0, "symbolSize": 625, "symbolStrokeWidth": 0, "symbolOpacity": 1, "labelFont": "Liberation Sans", "labelFontWeight": "bold", "labelFontSize": 30, "labelLimit": 0, "labelColor": "black", "labelOffset": 35, "rowPadding": 50, "labelExpr": "datum.value == 'V' ? 'Vehicle (n=4)' : 'CK-2017357 1mg/kg (n=4)'"}}
              },
              "layer": [
                {"mark": {"type": "errorbar", "ticks": {"size": 11, "strokeWidth": 1.2}, "rule": {"strokeWidth": 1.2}, "opacity": 0.65},
                 "encoding": {"y2": {"field": "u"}, "shape": {"value": "square"}}},
                {"mark": {"type": "point", "filled": true, "size": 400, "opacity": 1, "strokeWidth": 0}}
              ]
            }
          ]
        }
      ]
    }
  ]
}
